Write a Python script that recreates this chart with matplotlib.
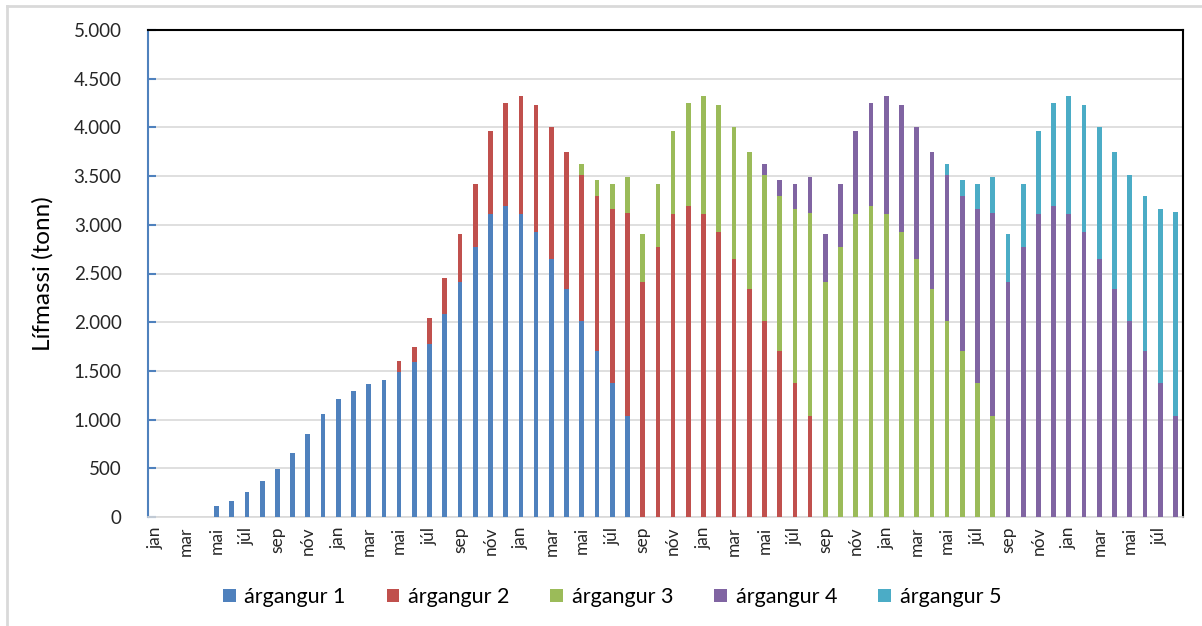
import matplotlib.pyplot as plt
import numpy as np

plt.rcParams['font.family'] = ['Lato', 'DejaVu Sans']

# months, jan year 1 to ágú year 6
month_names = ['jan', 'feb', 'mar', 'apr', 'mai', 'jún', 'júl', 'ágú', 'sep', 'okt', 'nóv', 'des']
n_months = 68

series_names = ['árgangur 1', 'árgangur 2', 'árgangur 3', 'árgangur 4', 'árgangur 5']
colors = ['#4F81BD', '#C0504D', '#9BBB59', '#8064A2', '#4BACC6']

# first month (index) each year class appears in the chart
start_month = [4, 16, 28, 40, 52]

# biomass (tonn) per month from the first month
arg1 = [110, 164, 260, 370, 497, 658, 856, 1058, 1209, 1298, 1370, 1411, 1486, 1592,
        1774, 2082, 2411, 2774, 3116, 3192, 3116, 2931, 2644, 2336, 2017, 1709, 1380, 1038]
arg2 = [117, 158, 264, 373, 490, 647, 850, 1061, 1209, 1302, 1363, 1414, 1490, 1586,
        1778, 2083, 2411, 2774, 3116, 3192, 3116, 2931, 2644, 2336, 2017, 1709, 1380, 1038]
arg3 = [117, 164, 262, 373, 490, 647, 850, 1061, 1209, 1302, 1363, 1414, 1490, 1590,
        1778, 2083, 2411, 2774, 3116, 3192, 3116, 2931, 2644, 2336, 2017, 1709, 1380, 1038]
arg4 = [117, 164, 262, 373, 490, 647, 850, 1061, 1209, 1302, 1363, 1414, 1490, 1590,
        1778, 2083, 2411, 2774, 3116, 3192, 3116, 2931, 2644, 2336, 2017, 1709, 1380, 1038]
arg5 = [117, 164, 262, 373, 490, 647, 850, 1061, 1209, 1302, 1363, 1414, 1490, 1590,
        1778, 2089]
series = [arg1, arg2, arg3, arg4, arg5]

x = np.arange(n_months)
xlabels = [month_names[i % 12] for i in range(n_months)]

fig = plt.figure(figsize=(12.02, 6.26), dpi=100)
ax = fig.add_axes([148 / 1202, 1 - 517 / 626, (1183 - 148) / 1202, (517 - 30) / 626])

bottom = np.zeros(n_months)
for name, vals, s0, c in zip(series_names, series, start_month, colors):
    full = np.zeros(n_months)
    full[s0:s0 + len(vals)] = vals
    ax.bar(x, full, width=0.31, bottom=bottom, color=c, label=name, zorder=3)
    bottom += full

ax.set_xlim(-0.5, n_months - 0.5)
ax.set_ylim(0, 5000)
ax.set_yticks(np.arange(0, 5001, 500))
ax.set_yticklabels([f'{v:,}'.replace(',', '.') for v in range(0, 5001, 500)], fontsize=13.5, color='#262626')
ax.set_xticks(x[::2])
ax.set_xticklabels(xlabels[::2], rotation=90, fontsize=12.5, color='#262626')
ax.tick_params(axis='x', length=0, pad=7)
ax.tick_params(axis='y', direction='in', length=6, width=1.5, color='#4F81BD', pad=19)
ax.grid(axis='y', color='#D9D9D9', linewidth=1.2, zorder=0)
ax.set_ylabel('Lífmassi (tonn)', fontsize=17.5, labelpad=14)

ax.spines['left'].set_color('#4F81BD')
ax.spines['left'].set_linewidth(1.5)
ax.spines['bottom'].set_color('#D9D9D9')
ax.spines['bottom'].set_linewidth(1.2)
for s in ['top', 'right']:
    ax.spines[s].set_color('black')
    ax.spines[s].set_linewidth(1.5)

fig.legend(loc='center', bbox_to_anchor=(612 / 1202, 1 - 597 / 626), ncol=5, frameon=False,
           fontsize=15.5, handlelength=0.6, handleheight=0.6, handletextpad=0.4, columnspacing=1.9)

# outer chart border
fig.add_artist(plt.Line2D([7 / 1202, 7 / 1202], [0, 1 - 6 / 626], transform=fig.transFigure, color='#D9D9D9', lw=2))
fig.add_artist(plt.Line2D([7 / 1202, 1], [1 - 6 / 626, 1 - 6 / 626], transform=fig.transFigure, color='#D9D9D9', lw=2))

fig.savefig('out.png', dpi=100)
